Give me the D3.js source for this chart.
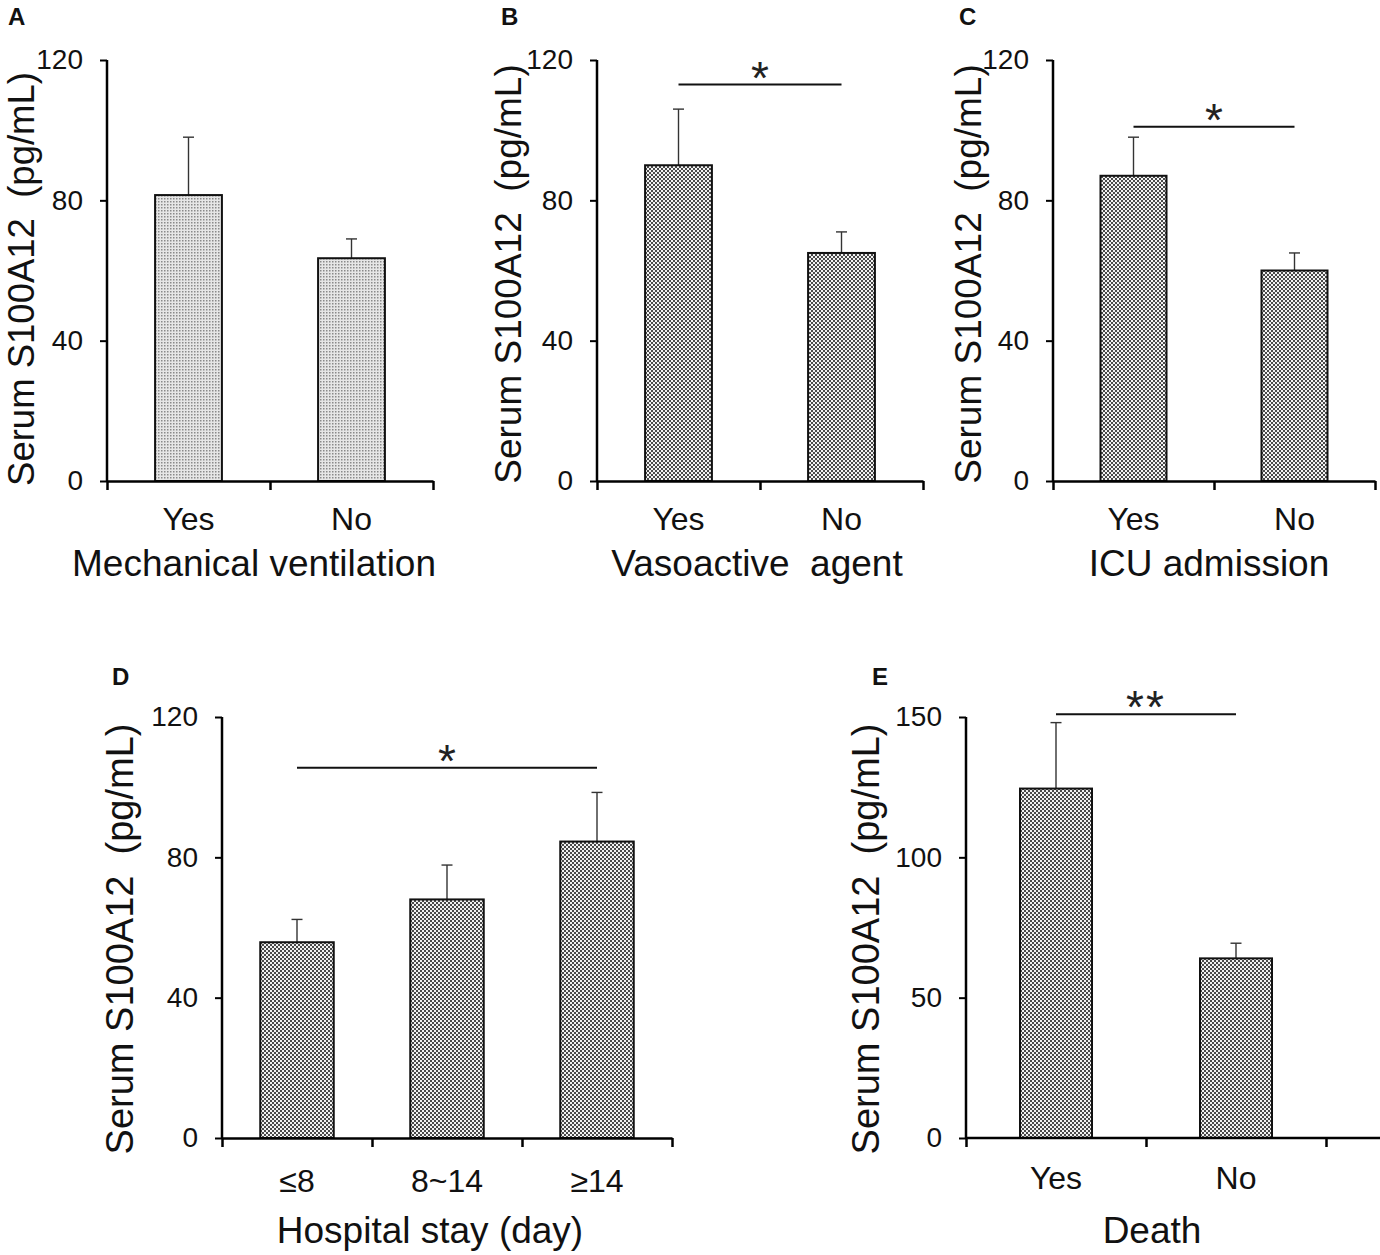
<!DOCTYPE html>
<html>
<head>
<meta charset="utf-8">
<script src="https://cdn.jsdelivr.net/npm/d3@7"></script>
<style>
  body { margin: 0; background: #fff; }
  svg { display: block; font-family: "Liberation Sans", Arial, sans-serif; }
</style>
</head>
<body>
<div id="chart"></div>
<script>
// data
var yesNo = ["Yes", "No"];
var stayCats = ["\u22648", "8~14", "\u226514"];

var ventMeans = [81.5, 63.5];
var ventSE = [16.5, 5.5];

var vasoMeans = [90, 65];
var vasoSE = [16, 6];

var icuMeans = [87, 60];
var icuSE = [11, 5];

var stayMeans = [55.8, 68, 84.5];
var staySE = [6.5, 9.8, 14];

var deathMeans = [124.5, 64];
var deathSE = [23.5, 5.4];

var ticks120 = [0, 40, 80, 120];
var ticks150 = [0, 50, 100, 150];

var yTitle = "Serum S100A12  (pg/mL)";

var svg = d3.select("#chart").append("svg")
    .attr("width", 1380).attr("height", 1255);

// fill patterns
var defs = svg.append("defs");
var dots = defs.append("pattern").attr("id", "dots")
    .attr("width", 3).attr("height", 3).attr("patternUnits", "userSpaceOnUse");
dots.append("rect").attr("width", 3).attr("height", 3).attr("fill", "#e6e6e6");
dots.append("rect").attr("width", 1.5).attr("height", 1.5).attr("fill", "#8a8a8a");

var check = defs.append("pattern").attr("id", "check")
    .attr("width", 4).attr("height", 4).attr("patternUnits", "userSpaceOnUse");
check.append("rect").attr("width", 4).attr("height", 4).attr("fill", "#f2f2f2");
check.append("rect").attr("width", 2).attr("height", 2).attr("fill", "#4a4a4a");
check.append("rect").attr("x", 2).attr("y", 2).attr("width", 2).attr("height", 2).attr("fill", "#4a4a4a");

var panels = [
    { letter: "A", lx: 8, ly: 25, x0: 107, yTop: 60, yBot: 481, step: 163, barFrac: 0.41,
      cats: yesNo, means: ventMeans, se: ventSE, yMax: 120, ticks: ticks120,
      fill: "url(#dots)", xTitle: "Mechanical ventilation", titDx: -16, labY: 530, titY: 576,
      ytX: 34, ytY: 279, ytSize: 36.5, sig: null },
    { letter: "B", lx: 501, ly: 25, x0: 597, yTop: 60, yBot: 481, step: 163, barFrac: 0.41,
      cats: yesNo, means: vasoMeans, se: vasoSE, yMax: 120, ticks: ticks120,
      fill: "url(#check)", xTitle: "Vasoactive  agent", titDx: -3, labY: 530, titY: 576,
      ytX: 521, ytY: 274, ytSize: 37, sig: { from: 0, to: 1, level: 113, label: "*" } },
    { letter: "C", lx: 959, ly: 25, x0: 1053, yTop: 60, yBot: 481, step: 161, barFrac: 0.41,
      cats: yesNo, means: icuMeans, se: icuSE, yMax: 120, ticks: ticks120,
      fill: "url(#check)", xTitle: "ICU admission", titDx: -5, labY: 530, titY: 576,
      ytX: 981, ytY: 274, ytSize: 37, sig: { from: 0, to: 1, level: 101, label: "*" } },
    { letter: "D", lx: 112, ly: 685, x0: 222, yTop: 717, yBot: 1138, step: 150, barFrac: 0.49,
      cats: stayCats, means: stayMeans, se: staySE, yMax: 120, ticks: ticks120,
      fill: "url(#check)", xTitle: "Hospital stay (day)", titDx: -17, labY: 1192, titY: 1243,
      ytX: 133, ytY: 939, ytSize: 38, sig: { from: 0, to: 2, level: 105.5, label: "*" } },
    { letter: "E", lx: 872, ly: 685, x0: 966, yTop: 717, yBot: 1138, step: 180, barFrac: 0.4,
      cats: yesNo, means: deathMeans, se: deathSE, yMax: 150, ticks: ticks150,
      fill: "url(#check)", xTitle: "Death", titDx: 6, labY: 1189, titY: 1243, axisEnd: 1380,
      ytX: 879, ytY: 939, ytSize: 38, sig: { from: 0, to: 1, level: 151, label: "**" } }
];

panels.forEach(function(p) {
    var n = p.cats.length;
    var width = p.step * n;
    var g = svg.append("g").attr("transform", "translate(" + p.x0 + ",0)");

    var y = d3.scaleLinear().domain([0, p.yMax]).range([p.yBot, p.yTop]);
    var x = d3.scaleBand().domain(p.cats).range([0, width]);
    var edge = d3.scaleLinear().domain([0, n]).range([0, width]);
    var bw = x.bandwidth() * p.barFrac;
    var cx = function(c) { return x(c) + x.bandwidth() / 2; };

    var data = p.cats.map(function(c, i) {
        return { cat: c, mean: p.means[i], se: p.se[i] };
    });

    // error bars (upper only)
    var err = g.selectAll(".err").data(data).enter().append("g");
    err.append("line")
        .attr("x1", function(d) { return cx(d.cat); })
        .attr("x2", function(d) { return cx(d.cat); })
        .attr("y1", function(d) { return y(d.mean); })
        .attr("y2", function(d) { return y(d.mean + d.se); })
        .attr("stroke", "#333").attr("stroke-width", 1.4);
    err.append("line")
        .attr("x1", function(d) { return cx(d.cat) - 5.5; })
        .attr("x2", function(d) { return cx(d.cat) + 5.5; })
        .attr("y1", function(d) { return y(d.mean + d.se); })
        .attr("y2", function(d) { return y(d.mean + d.se); })
        .attr("stroke", "#333").attr("stroke-width", 1.4);

    // bars
    g.selectAll(".bar").data(data).enter().append("rect")
        .attr("x", function(d) { return cx(d.cat) - bw / 2; })
        .attr("width", bw)
        .attr("y", function(d) { return y(d.mean); })
        .attr("height", function(d) { return p.yBot - y(d.mean); })
        .attr("fill", p.fill)
        .attr("stroke", "#111").attr("stroke-width", 2);

    // y axis
    var ya = g.append("g").call(d3.axisLeft(y).tickValues(p.ticks).tickSize(7).tickPadding(17));
    ya.select(".domain").attr("stroke-width", 2.5).attr("d", "M0," + p.yTop + "V" + p.yBot);
    ya.selectAll(".tick line").attr("stroke-width", 2);
    ya.selectAll("text").attr("font-size", 28).attr("fill", "#111")
        .attr("font-family", "Liberation Sans, Arial, sans-serif");

    // x axis, ticks at category boundaries
    var xa = g.append("g").attr("transform", "translate(0," + p.yBot + ")")
        .call(d3.axisBottom(edge).tickValues(d3.range(n + 1)).tickFormat("").tickSize(9).tickSizeOuter(0));
    xa.select(".domain").attr("stroke-width", 2.5);
    if (p.axisEnd) xa.select(".domain").attr("d", "M0,0H" + (p.axisEnd - p.x0));
    xa.selectAll(".tick line").attr("stroke-width", 2.5);

    // category labels
    g.selectAll(".cat").data(p.cats).enter().append("text")
        .attr("x", function(d) { return cx(d); })
        .attr("y", p.labY)
        .attr("text-anchor", "middle")
        .attr("font-size", 32).attr("fill", "#111")
        .text(function(d) { return d; });

    // x title
    g.append("text")
        .attr("x", width / 2 + p.titDx).attr("y", p.titY)
        .attr("text-anchor", "middle")
        .attr("font-size", 37).attr("fill", "#111")
        .style("white-space", "pre")
        .text(p.xTitle);

    // significance bracket
    if (p.sig) {
        var s = p.sig;
        var xa1 = cx(p.cats[s.from]);
        var xa2 = cx(p.cats[s.to]);
        g.append("line")
            .attr("x1", xa1).attr("x2", xa2)
            .attr("y1", y(s.level)).attr("y2", y(s.level))
            .attr("stroke", "#111").attr("stroke-width", 2);
        g.append("text")
            .attr("x", (xa1 + xa2) / 2).attr("y", y(s.level) + 9)
            .attr("text-anchor", "middle")
            .attr("font-size", 46).attr("fill", "#222")
            .attr("letter-spacing", s.label.length > 1 ? 2 : 0)
            .text(s.label);
    }

    // y title
    svg.append("text")
        .attr("transform", "translate(" + p.ytX + "," + p.ytY + ") rotate(-90)")
        .attr("text-anchor", "middle")
        .attr("font-size", p.ytSize).attr("fill", "#111")
        .style("white-space", "pre")
        .text(yTitle);

    // panel letter
    svg.append("text")
        .attr("x", p.lx).attr("y", p.ly)
        .attr("font-size", 24).attr("font-weight", "bold").attr("fill", "#111")
        .text(p.letter);
});
</script>
</body>
</html>
